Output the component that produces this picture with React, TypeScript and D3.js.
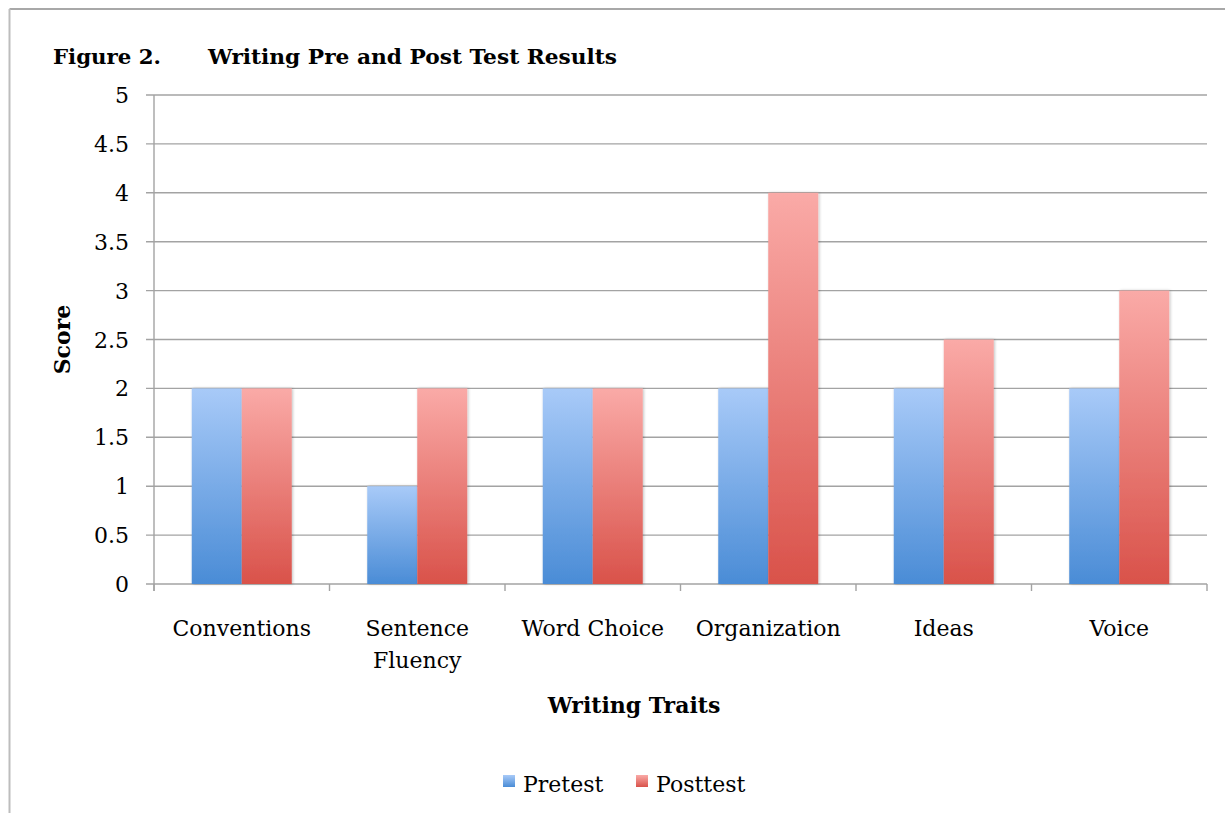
import React from "react";
import * as d3 from "d3";

const categories = ["Conventions", "Sentence Fluency", "Word Choice", "Organization", "Ideas", "Voice"];
const pretest = [2, 1, 2, 2, 2, 2];
const posttest = [2, 2, 2, 4, 2.5, 3];
const yTicks = [0, 0.5, 1, 1.5, 2, 2.5, 3, 3.5, 4, 4.5, 5];
const seriesNames = ["Pretest", "Posttest"];

const W = 1225, H = 813;
const left = 154, right = 1207, top = 95, bottom = 584;
const font = "'DejaVu Serif', 'Liberation Serif', serif";
const gridColor = "#a3a3a3";

export default function App() {
  const x = d3.scaleBand<string>().domain(categories).range([left, right]).paddingInner(0).paddingOuter(0);
  const y = d3.scaleLinear().domain([0, 5]).range([bottom, top]);
  const inner = d3.scaleBand<string>().domain(seriesNames).range([0, x.bandwidth()]).paddingInner(0).paddingOuter(0.755);
  const series = [pretest, posttest];
  const grads = ["gBlue", "gRed"];
  const labelLines: Record<string, string[]> = { "Sentence Fluency": ["Sentence", "Fluency"] };
  return (
    <div style={{ position: "absolute", left: 0, top: 0 }}>
      <svg width={W} height={H} style={{ display: "block" }}>
        <defs>
          <linearGradient id="gBlue" x1="0" y1="0" x2="0" y2="1">
            <stop offset="0" stopColor="#a8caf8" />
            <stop offset="1" stopColor="#4a8cd6" />
          </linearGradient>
          <linearGradient id="gRed" x1="0" y1="0" x2="0" y2="1">
            <stop offset="0" stopColor="#faaaa7" />
            <stop offset="1" stopColor="#d9524a" />
          </linearGradient>
          <filter id="sh" x="-20%" y="-5%" width="140%" height="110%">
            <feGaussianBlur in="SourceAlpha" stdDeviation="1.5" />
            <feOffset dx="1" dy="0" result="b" />
            <feComponentTransfer><feFuncA type="linear" slope="0.25" /></feComponentTransfer>
            <feMerge><feMergeNode /><feMergeNode in="SourceGraphic" /></feMerge>
          </filter>
        </defs>
        <rect x={0} y={0} width={W} height={H} fill="#fff" />
        {/* frame */}
        <line x1={9.5} y1={9} x2={W} y2={9} stroke="#a8a8a8" strokeWidth={2} />
        <line x1={9.5} y1={9} x2={9.5} y2={H} stroke="#bdbdbd" strokeWidth={2} />
        {/* title */}
        <text x={53} y={64} fontFamily={font} fontWeight="bold" fontSize={21} fill="#000" textLength={108} lengthAdjust="spacingAndGlyphs">Figure 2.</text>
        <text x={208} y={64} fontFamily={font} fontWeight="bold" fontSize={21} fill="#000" textLength={409} lengthAdjust="spacingAndGlyphs">Writing Pre and Post Test Results</text>
        {/* gridlines */}
        {yTicks.map((t) => (
          <g key={t}>
            <line x1={left - 8} x2={right} y1={y(t)} y2={y(t)} stroke={gridColor} strokeWidth={1.4} />
            <text x={129} y={y(t) + 8} textAnchor="end" fontFamily={font} fontSize={22} fill="#000">{t}</text>
          </g>
        ))}
        {/* y axis */}
        <line x1={left} x2={left} y1={top} y2={bottom + 7} stroke={gridColor} strokeWidth={1.4} />
        {/* bars */}
        {series.map((vals, si) =>
          categories.map((c, i) => (
            <rect key={c + si} x={(x(c) as number) + (inner(seriesNames[si]) as number)} y={y(vals[i])}
              width={inner.bandwidth()} height={y(0) - y(vals[i])} fill={`url(#${grads[si]})`} filter="url(#sh)" />
          ))
        )}
        {/* x axis ticks */}
        {[...categories.map((c) => x(c) as number), right].map((px, i) => (
          <line key={i} x1={px} x2={px} y1={bottom} y2={bottom + 7} stroke={gridColor} strokeWidth={1.4} />
        ))}
        {/* category labels */}
        {categories.map((c) => {
          const lines = labelLines[c] || [c];
          const cx = (x(c) as number) + x.bandwidth() / 2;
          return (
            <text key={c} x={cx} y={636} textAnchor="middle" fontFamily={font} fontSize={22} fill="#000">
              {lines.map((l, j) => (
                <tspan key={j} x={cx} dy={j === 0 ? 0 : 32}>{l}</tspan>
              ))}
            </text>
          );
        })}
        {/* axis titles */}
        <text x={634} y={713} textAnchor="middle" fontFamily={font} fontWeight="bold" fontSize={22} fill="#000">Writing Traits</text>
        <text transform={`translate(70,${(top + bottom) / 2}) rotate(-90)`} textAnchor="middle" fontFamily={font} fontWeight="bold" fontSize={22} fill="#000">Score</text>
        {/* legend */}
        {seriesNames.map((s, i) => {
          const lx = i === 0 ? 503 : 636;
          return (
            <g key={s}>
              <rect x={lx} y={775} width={12} height={12} fill={`url(#${grads[i]})`} />
              <text x={lx + 20} y={792} fontFamily={font} fontSize={22} fill="#000">{s}</text>
            </g>
          );
        })}
      </svg>
    </div>
  );
}
